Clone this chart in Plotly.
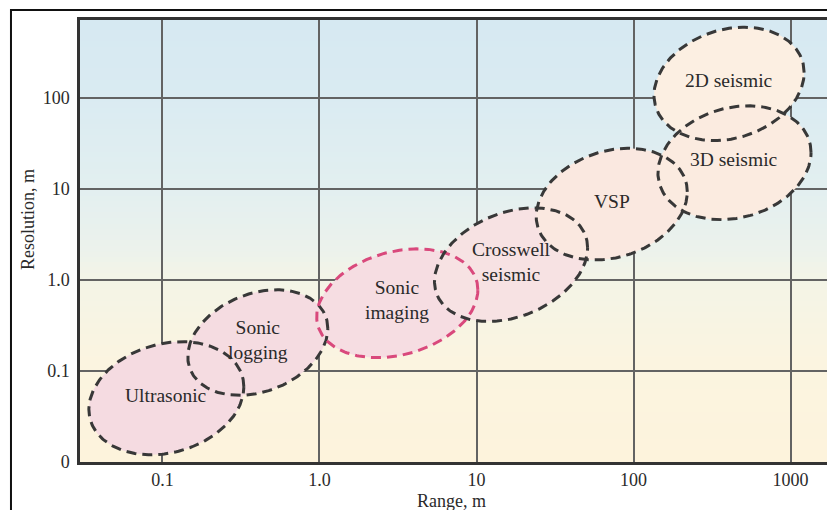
import numpy as np
import plotly.graph_objects as go

# Measurement methods and the range / resolution each one covers (metres)
methods = ["Ultrasonic", "Sonic<br>logging", "Sonic<br>imaging", "Crosswell<br>seismic",
           "VSP", "2D seismic", "3D seismic"]
range_lo = [0.034, 0.145, 0.96, 5.4, 24, 135, 143]
range_hi = [0.33, 1.13, 10.2, 51, 220, 1220, 1350]
res_lo = [0.012, 0.054, 0.14, 0.35, 1.66, 34, 4.6]
res_hi = [0.21, 0.78, 2.2, 6.2, 28, 600, 82]

# Axis ticks
x_tickvals = [0.1, 1, 10, 100, 1000]
x_ticktext = ["0.1", "1.0", "10", "100", "1000"]
y_tickvals = [0.01, 0.1, 1, 10, 100]
y_ticktext = ["0", "0.1", "1.0", "10", "100"]

# Styling per method
fills = ["#f5dbe1", "#f5dce1", "#f6dde2", "#f7e2e3", "#fae8e0", "#fcefe2", "#fbebe0"]
edges = ["#383838", "#383838", "#d9497c", "#383838", "#383838", "#383838", "#383838"]
skew = [0.2, 0.27, 0.25, 0.3, 0.22, 0.2, 0.18]

SERIF = "Liberation Serif"
TEXT = "#2a2a2a"
fig = go.Figure()

t = np.linspace(0, 2 * np.pi, 241)
outlines = []
for i, name in enumerate(methods):
    lx0, lx1 = np.log10(range_lo[i]), np.log10(range_hi[i])
    ly0, ly1 = np.log10(res_lo[i]), np.log10(res_hi[i])
    cx, cy = (lx0 + lx1) / 2, (ly0 + ly1) / 2
    w, h = (lx1 - lx0) / 2, (ly1 - ly0) / 2
    xs = 10 ** (cx + w * np.cos(t))
    ys = 10 ** (cy + h * np.sin(t + skew[i]))
    fig.add_trace(go.Scatter(x=xs, y=ys, mode="lines", fill="toself",
                             fillcolor=fills[i], line=dict(width=0),
                             hoverinfo="skip", showlegend=False))
    outlines.append((xs, ys, edges[i]))
    fig.add_annotation(x=cx, y=cy, xref="x", yref="y", text=name, showarrow=False,
                       yshift=3, font=dict(family=SERIF, size=19.5, color=TEXT))

for xs, ys, col in outlines:
    fig.add_trace(go.Scatter(x=xs, y=ys, mode="lines",
                             line=dict(color=col, width=3, dash="10px,6px"),
                             hoverinfo="skip", showlegend=False))

# Vertical background wash: pale blue at the top to cream at the bottom
stops = [(0.0, (214, 233, 242)), (0.18, (218, 235, 242)), (0.38, (226, 239, 240)),
         (0.52, (236, 242, 236)), (0.6, (244, 244, 230)), (0.78, (251, 244, 224)),
         (1.0, (253, 243, 220))]
n_bands = 80
shapes = []
for k in range(n_bands):
    f = (k + 0.5) / n_bands
    for j in range(len(stops) - 1):
        if stops[j][0] <= f <= stops[j + 1][0]:
            a = (f - stops[j][0]) / (stops[j + 1][0] - stops[j][0])
            c = [round(stops[j][1][m] + a * (stops[j + 1][1][m] - stops[j][1][m])) for m in range(3)]
            break
    shapes.append(dict(type="rect", xref="paper", yref="paper", layer="below",
                       x0=0, x1=1, y0=1 - (k + 1) / n_bands, y1=1 - k / n_bands + 0.002,
                       fillcolor=f"rgb({c[0]},{c[1]},{c[2]})", line=dict(width=0)))

# Outer frame around the figure
shapes.append(dict(type="rect", xref="paper", yref="paper", layer="above",
                   x0=-0.0924, x1=1.2, y0=-0.3, y1=1.0226,
                   line=dict(color="#111111", width=2), fillcolor="rgba(0,0,0,0)"))

fig.add_annotation(text="Resolution, m", xref="paper", yref="paper", x=-0.0696, y=0.5475,
                   xanchor="center", yanchor="middle", textangle=-90, showarrow=False,
                   font=dict(family=SERIF, size=18, color=TEXT))
fig.add_annotation(text="Range, m", xref="paper", yref="paper", x=0.4967, y=-0.0882,
                   xanchor="center", yanchor="middle",
                   showarrow=False, font=dict(family=SERIF, size=18, color=TEXT))

fig.update_layout(
    width=827, height=510,
    margin=dict(l=80, r=0, t=20, b=48),
    paper_bgcolor="white", plot_bgcolor="rgba(0,0,0,0)",
    shapes=shapes,
    xaxis=dict(type="log", range=[-1.525, 3.232], tickvals=x_tickvals, ticktext=x_ticktext,
               showgrid=True, gridcolor="#636363", gridwidth=2, zeroline=False,
               showline=True, linecolor="#333333", linewidth=2.5, mirror=True,
               ticks="", ticklabelstandoff=0,
               tickfont=dict(family=SERIF, size=18, color=TEXT)),
    yaxis=dict(type="log", range=[-2, 2.857], tickvals=y_tickvals, ticktext=y_ticktext,
               showgrid=True, gridcolor="#636363", gridwidth=2, zeroline=False,
               showline=True, linecolor="#333333", linewidth=2.5,
               ticks="", ticklabelstandoff=4,
               tickfont=dict(family=SERIF, size=18, color=TEXT)),
)

fig.write_html("out.html")
